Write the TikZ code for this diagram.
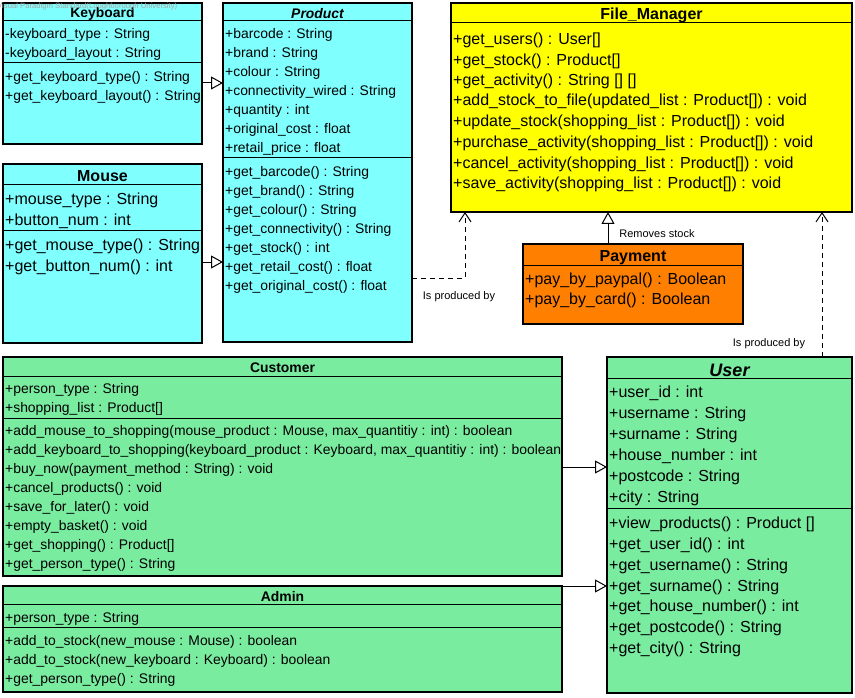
\documentclass[tikz,border=0pt]{standalone}
\usepackage{fontspec}
\setmainfont{Liberation Sans}
\usetikzlibrary{arrows.meta}

\definecolor{cyanfill}{RGB}{128,255,255}
\definecolor{yellowfill}{RGB}{255,255,0}
\definecolor{orangefill}{RGB}{255,128,0}
\definecolor{greenfill}{RGB}{122,236,160}
\definecolor{markgray}{RGB}{165,165,165}

\tikzset{
  classbox/.style={draw=black, line width=1.1pt, anchor=north west, inner sep=0pt, outer sep=0pt},
  sepline/.style={draw=black, line width=1pt},
  smallmember/.style={anchor=west, inner sep=0pt, yshift=-1.5pt, font=\fontsize{13.9}{16}\selectfont},
  bigmember/.style={anchor=west, inner sep=0pt, yshift=-1.5pt, font=\fontsize{16}{18}\selectfont},
  smalltitle/.style={inner sep=0pt, yshift=-1.5pt, font=\fontsize{13.9}{16}\selectfont\bfseries},
  bigtitle/.style={inner sep=0pt, yshift=-1.5pt, font=\fontsize{16}{18}\selectfont\bfseries},
  linklabel/.style={inner sep=0pt, yshift=-1pt, font=\fontsize{11}{13}\selectfont},
  gen/.style={draw=black, line width=1pt, -{Triangle[open, length=12pt, width=13pt, fill=white]}},
  dep/.style={draw=black, line width=1pt, dash pattern=on 5pt off 4pt,
    -{Straight Barb[length=9pt, width=12pt]}},
}

% class box: name, fill, x, y, width, height
\newcommand\umlbox[6]{\node[classbox, fill=#2, minimum width=#5pt, minimum height=#6pt] (#1) at (#3,#4) {};}
% horizontal compartment line inside a class box at a given y
\newcommand\umlsep[2]{\draw[sepline] (#1.west |- 0,#2) -- (#1.east |- 0,#2);}

\begin{document}
\begin{tikzpicture}[x=1pt, y=-1pt]
\fill[white] (0,0) rectangle (855,698);
\useasboundingbox (0,0) rectangle (855,698);

% ---------- Keyboard ----------
\umlbox{kb}{cyanfill}{3}{3}{199}{141}
\umlsep{kb}{21}
\umlsep{kb}{63}
\node[smalltitle] (kb-t) at (kb.north |- 0,12) {Keyboard};
\node[smallmember] (kb-a1) at (5,33) {-keyboard\_type : String};
\node[smallmember] (kb-a2) at (5,52) {-keyboard\_layout : String};
\node[smallmember] (kb-m1) at (5,76) {+get\_keyboard\_type() : String};
\node[smallmember] (kb-m2) at (5,95) {+get\_keyboard\_layout() : String};

% ---------- Product ----------
\umlbox{prod}{cyanfill}{223}{3}{189}{339}
\umlsep{prod}{21}
\umlsep{prod}{158}
\node[smalltitle] (prod-t) at (prod.north |- 0,12) {\itshape Product};
\node[smallmember] (prod-a1) at (225,33) {+barcode : String};
\node[smallmember] (prod-a2) at (225,52) {+brand : String};
\node[smallmember] (prod-a3) at (225,71) {+colour : String};
\node[smallmember] (prod-a4) at (225,90) {+connectivity\_wired : String};
\node[smallmember] (prod-a5) at (225,109) {+quantity : int};
\node[smallmember] (prod-a6) at (225,128) {+original\_cost : float};
\node[smallmember] (prod-a7) at (225,147) {+retail\_price : float};
\node[smallmember] (prod-m1) at (225,171) {+get\_barcode() : String};
\node[smallmember] (prod-m2) at (225,190) {+get\_brand() : String};
\node[smallmember] (prod-m3) at (225,209) {+get\_colour() : String};
\node[smallmember] (prod-m4) at (225,228) {+get\_connectivity() : String};
\node[smallmember] (prod-m5) at (225,247) {+get\_stock() : int};
\node[smallmember] (prod-m6) at (225,266) {+get\_retail\_cost() : float};
\node[smallmember] (prod-m7) at (225,285) {+get\_original\_cost() : float};

% ---------- Mouse ----------
\umlbox{mouse}{cyanfill}{3}{164}{199}{179}
\umlsep{mouse}{185}
\umlsep{mouse}{231}
\node[bigtitle] (mouse-t) at (mouse.north |- 0,175) {Mouse};
\node[bigmember] (mouse-a1) at (5,199) {+mouse\_type : String};
\node[bigmember] (mouse-a2) at (5,220) {+button\_num : int};
\node[bigmember] (mouse-m1) at (5,245) {+get\_mouse\_type() : String};
\node[bigmember] (mouse-m2) at (5,266) {+get\_button\_num() : int};

% ---------- File_Manager ----------
\umlbox{fm}{yellowfill}{451}{3}{401}{209}
\umlsep{fm}{23}
\node[bigtitle] (fm-t) at (fm.north |- 0,14) {File\_Manager};
\node[bigmember] (fm-m1) at (453,39) {+get\_users() : User[]};
\node[bigmember] (fm-m2) at (453,60) {+get\_stock() : Product[]};
\node[bigmember] (fm-m3) at (453,80) {+get\_activity() : String [] []};
\node[bigmember] (fm-m4) at (453,100) {+add\_stock\_to\_file(updated\_list : Product[]) : void};
\node[bigmember] (fm-m5) at (453,121) {+update\_stock(shopping\_list : Product[]) : void};
\node[bigmember] (fm-m6) at (453,142) {+purchase\_activity(shopping\_list : Product[]) : void};
\node[bigmember] (fm-m7) at (453,163) {+cancel\_activity(shopping\_list : Product[]) : void};
\node[bigmember] (fm-m8) at (453,183) {+save\_activity(shopping\_list : Product[]) : void};

% ---------- Payment ----------
\umlbox{pay}{orangefill}{523}{244}{220}{80}
\umlsep{pay}{265}
\node[bigtitle] (pay-t) at (pay.north |- 0,256) {Payment};
\node[bigmember] (pay-m1) at (525,279) {+pay\_by\_paypal() : Boolean};
\node[bigmember] (pay-m2) at (525,299) {+pay\_by\_card() : Boolean};

% ---------- Customer ----------
\umlbox{cust}{greenfill}{3}{357}{559}{219}
\umlsep{cust}{376}
\umlsep{cust}{418}
\node[smalltitle] (cust-t) at (cust.north |- 0,366) {Customer};
\node[smallmember] (cust-a1) at (5,388) {+person\_type : String};
\node[smallmember] (cust-a2) at (5,407) {+shopping\_list : Product[]};
\node[smallmember] (cust-m1) at (5,430) {+add\_mouse\_to\_shopping(mouse\_product : Mouse, max\_quantitiy : int) : boolean};
\node[smallmember] (cust-m2) at (5,449) {+add\_keyboard\_to\_shopping(keyboard\_product : Keyboard, max\_quantitiy : int) : boolean};
\node[smallmember] (cust-m3) at (5,468) {+buy\_now(payment\_method : String) : void};
\node[smallmember] (cust-m4) at (5,487) {+cancel\_products() : void};
\node[smallmember] (cust-m5) at (5,506) {+save\_for\_later() : void};
\node[smallmember] (cust-m6) at (5,525) {+empty\_basket() : void};
\node[smallmember] (cust-m7) at (5,544) {+get\_shopping() : Product[]};
\node[smallmember] (cust-m8) at (5,563) {+get\_person\_type() : String};

% ---------- Admin ----------
\umlbox{adm}{greenfill}{3}{586}{559}{106}
\umlsep{adm}{604}
\umlsep{adm}{627}
\node[smalltitle] (adm-t) at (adm.north |- 0,595) {Admin};
\node[smallmember] (adm-a1) at (5,617) {+person\_type : String};
\node[smallmember] (adm-m1) at (5,640) {+add\_to\_stock(new\_mouse : Mouse) : boolean};
\node[smallmember] (adm-m2) at (5,659) {+add\_to\_stock(new\_keyboard : Keyboard) : boolean};
\node[smallmember] (adm-m3) at (5,678) {+get\_person\_type() : String};

% ---------- User ----------
\umlbox{user}{greenfill}{607}{357}{245}{336}
\umlsep{user}{378}
\umlsep{user}{508}
\node[bigtitle, font=\fontsize{18}{20}\selectfont\bfseries\itshape] (user-t) at (user.north |- 0,369) {User};
\node[bigmember] (user-a1) at (609,392) {+user\_id : int};
\node[bigmember] (user-a2) at (609,413) {+username : String};
\node[bigmember] (user-a3) at (609,434) {+surname : String};
\node[bigmember] (user-a4) at (609,455) {+house\_number : int};
\node[bigmember] (user-a5) at (609,476) {+postcode : String};
\node[bigmember] (user-a6) at (609,497) {+city : String};
\node[bigmember] (user-m1) at (609,523) {+view\_products() : Product []};
\node[bigmember] (user-m2) at (609,544) {+get\_user\_id() : int};
\node[bigmember] (user-m3) at (609,565) {+get\_username() : String};
\node[bigmember] (user-m4) at (609,586) {+get\_surname() : String};
\node[bigmember] (user-m5) at (609,606) {+get\_house\_number() : int};
\node[bigmember] (user-m6) at (609,627) {+get\_postcode() : String};
\node[bigmember] (user-m7) at (609,648) {+get\_city() : String};

% ---------- Relationships ----------
\draw[gen] (kb.east |- 0,83) -- (prod.west |- 0,83);
\draw[gen] (mouse.east |- 0,262) -- (prod.west |- 0,262);
\draw[gen] (cust.east |- 0,467) -- (user.west |- 0,467);
\draw[gen] (adm.east |- 0,586) -- (user.west |- 0,586);
\draw[gen] (608,0 |- pay.north) -- (608,0 |- fm.south);
\draw[dep] (prod.east |- 0,278) -| (465,0 |- fm.south);
\draw[dep] (822,0 |- user.north) -- (822,0 |- fm.south);

\node[linklabel] (lbl-remove) at (657,233) {Removes stock};
\node[linklabel] (lbl-prod1) at (459,296) {Is produced by};
\node[linklabel] (lbl-prod2) at (769,343) {Is produced by};

% editor stamp
\node[anchor=west, inner sep=0pt, text=markgray, font=\fontsize{7.7}{9}\selectfont] (stamp) at (-3,7) {Visual Paradigm Standard(Loughborough University)};
\end{tikzpicture}
\end{document}
